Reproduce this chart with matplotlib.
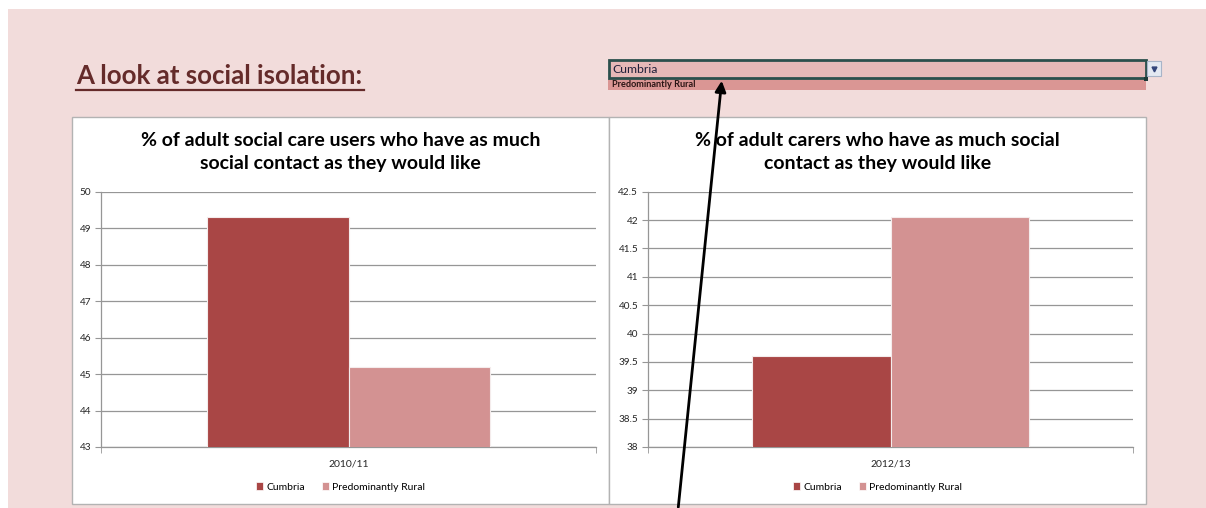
import matplotlib
matplotlib.use("Agg")
import matplotlib.pyplot as plt
from matplotlib.patches import Rectangle, Patch, FancyArrowPatch
from matplotlib.lines import Line2D

plt.rcParams['font.family'] = ['Lato', 'DejaVu Sans']

# data
series = ["Cumbria", "Predominantly Rural"]
users_period = ["2010/11"]
users_values = [49.3, 45.2]
carers_period = ["2012/13"]
carers_values = [39.6, 42.06]
users_ticks = [43, 44, 45, 46, 47, 48, 49, 50]
carers_ticks = [38, 38.5, 39, 39.5, 40, 40.5, 41, 41.5, 42, 42.5]
users_title = "% of adult social care users who have as much\nsocial contact as they would like"
carers_title = "% of adult carers who have as much social\ncontact as they would like"
page_title = "A look at social isolation:"
dropdown_value = "Cumbria"
dropdown_next = "Predominantly Rural"

colors = ["#A94645", "#D39292"]
pink_bg = "#F2DCDB"
grid_col = "#969696"

W, H = 1206, 508
fig = plt.figure(figsize=(W / 100, H / 100), dpi=100, facecolor="white")


def fx(x):
    return x / W


def fy(y):
    return 1 - y / H


def rect(x0, y0, x1, y1, **kw):
    r = Rectangle((fx(x0), fy(y1)), fx(x1) - fx(x0), fy(y0) - fy(y1),
                  transform=fig.transFigure, **kw)
    fig.add_artist(r)
    return r


# page background
rect(8, 9, W, H, facecolor=pink_bg, edgecolor="none", zorder=0)

# page title with underline
fig.text(fx(76), fy(84), page_title, fontsize=18.6, fontweight="bold",
         color="#652B2A", ha="left", va="baseline")
fig.add_artist(Line2D([fx(76), fx(364)], [fy(89.5), fy(89.5)],
                      transform=fig.transFigure, color="#652B2A", lw=1.6))

# dropdown cell
rect(608, 79, 1146, 90, facecolor="#DA9694", edgecolor="none", zorder=1)
rect(609, 60, 1146, 78, facecolor="#E6B8B7", edgecolor="#2B4F4C", lw=2, zorder=2)
rect(1144, 77, 1148, 81, facecolor="#1E3A38", edgecolor="none", zorder=3)
fig.text(fx(612), fy(69.5), dropdown_value, fontsize=8.8, color="#1F1F3A",
         ha="left", va="center", zorder=3)
fig.text(fx(612), fy(84.5), dropdown_next, fontsize=6.6, fontweight="bold",
         color="#2A1414", ha="left", va="center", zorder=3)
rect(1147, 61, 1161, 76, facecolor="#E4E9F2", edgecolor="#A8B4C8", lw=0.8, zorder=2)
fig.add_artist(Line2D([fx(1154)], [fy(69)], transform=fig.transFigure, marker="v",
                      markersize=3.5, color="#34457A", zorder=3))

# chart panels
panels = [(72, 609), (609, 1146)]
for x0, x1 in panels:
    rect(x0, 117, x1, 504, facecolor="white", edgecolor="#B3B3B3", lw=1, zorder=1)


def draw_chart(ax_box, panel, title, period, values, ticks):
    x0, y0, x1, y1 = ax_box
    ax = fig.add_axes([fx(x0), fy(y1), fx(x1) - fx(x0), fy(y0) - fy(y1)])
    ax.set_zorder(2)
    ax.patch.set_alpha(0)
    w = 0.285
    offsets = [-w / 2, w / 2]
    for i, name in enumerate(series):
        ax.bar([offsets[i]], [values[i]], width=w, color=colors[i],
               edgecolor="#F4ECEC", lw=0.8, label=name, zorder=3)
    ax.set_xlim(-0.5, 0.5)
    ax.set_ylim(ticks[0], ticks[-1])
    ax.set_yticks(ticks)
    ax.set_yticklabels([f"{t:g}" for t in ticks])
    ax.yaxis.grid(True, color=grid_col, lw=0.9)
    ax.set_axisbelow(True)
    for s in ["top", "right"]:
        ax.spines[s].set_visible(False)
    for s in ["left", "bottom"]:
        ax.spines[s].set_color(grid_col)
        ax.spines[s].set_linewidth(0.9)
    ax.tick_params(axis="y", length=4, color=grid_col, labelsize=7.2,
                   labelcolor="#262626", pad=3)
    ax.set_xticks([0])
    ax.set_xticklabels(period)
    ax.set_xticks([-0.5, 0.5], minor=True)
    ax.tick_params(axis="x", which="major", length=0, labelsize=7.5,
                   labelcolor="#262626", pad=9)
    ax.tick_params(axis="x", which="minor", length=4, color=grid_col)

    px0, px1 = panel
    cx = (px0 + px1) / 2
    fig.text(fx(cx), fy(152), title, fontsize=14, fontweight="bold",
             ha="center", va="center", linespacing=1.42, color="black", zorder=3)
    handles = [Patch(facecolor=colors[i], edgecolor="white", lw=0.5)
               for i in range(len(series))]
    ax.legend(handles, series, loc="center", bbox_to_anchor=(fx(cx), fy(487)),
              bbox_transform=fig.transFigure, ncol=2, frameon=False,
              fontsize=7.5, handlelength=0.7, handleheight=0.7,
              handletextpad=0.3, columnspacing=1.6)
    return ax


draw_chart((101, 191.7, 596, 447), panels[0], users_title, users_period,
           users_values, users_ticks)
draw_chart((648, 191.7, 1133, 447), panels[1], carers_title, carers_period,
           carers_values, carers_ticks)

# arrow pointing at the dropdown
fig.add_artist(FancyArrowPatch((fx(678), fy(510)), (fx(722), fy(78)),
                               transform=fig.transFigure, arrowstyle="-|>",
                               mutation_scale=16, lw=2, color="black", zorder=10))

fig.savefig("out.png", dpi=100, facecolor=fig.get_facecolor())
